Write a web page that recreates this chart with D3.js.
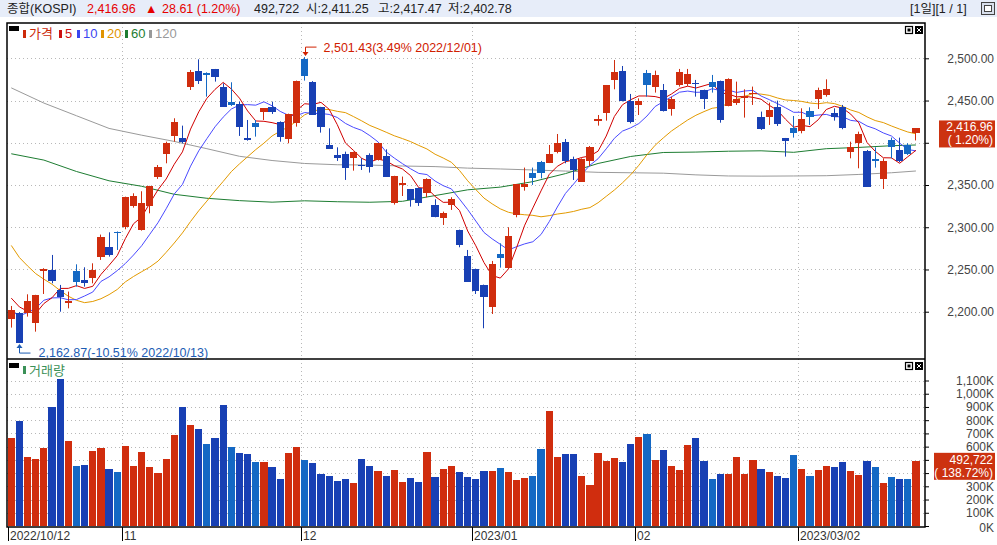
<!DOCTYPE html>
<html>
<head>
<meta charset="utf-8">
<script src="https://cdn.jsdelivr.net/npm/d3@7"></script>
<style>
body { margin: 0; background: #fff; }
svg { display: block; font-family: "Liberation Sans", "Noto Sans CJK KR", sans-serif; }
</style>
</head>
<body>
<div id="chart"></div>
<script>
const width = 997;
const height = 545;

// daily KOSPI candles, 2022/10/12 .. 2023/03/22
const opens = [2191.0,2198.1,2199.0,2187.1,2248.6,2249.4,2225.8,2210.0,2248.6,2237.6,
  2239.6,2264.4,2276.3,2294.8,2300.7,2325.2,2296.8,2325.2,2359.9,2386.7,
  2408.1,2405.3,2466.5,2484.6,2483.0,2487.0,2465.7,2448.7,2445.9,2405.3,
  2423.8,2436.9,2442.8,2425.0,2404.5,2423.8,2499.0,2472.4,2442.0,2397.4,
  2385.6,2386.7,2382.4,2373.7,2385.2,2379.6,2384.4,2328.3,2350.4,2344.9,
  2346.5,2340.2,2326.4,2311.4,2326.8,2296.8,2266.0,2250.6,2231.7,2205.2,
  2268.4,2252.2,2314.5,2347.3,2363.9,2377.3,2376.5,2389.5,2401.0,2380.4,
  2354.0,2378.9,2426.2,2435.7,2474.4,2485.0,2449.9,2445.1,2483.0,2466.5,
  2462.5,2439.6,2468.4,2469.6,2471.2,2462.5,2471.6,2473.2,2443.6,2447.5,
  2452.6,2457.4,2430.2,2430.2,2442.0,2405.3,2417.1,2414.4,2438.0,2451.9,
  2456.6,2434.9,2442.0,2389.5,2400.2,2390.7,2380.4,2357.6,2403.3,2391.5,
  2397.4,2411.25];
const highs = [2206.8,2199.5,2220.6,2220.0,2251.5,2267.2,2231.7,2223.8,2256.1,2252.6,
  2257.3,2291.3,2294.0,2295.0,2336.2,2340.2,2342.6,2349.0,2373.7,2401.3,
  2429.0,2420.3,2486.2,2498.8,2483.4,2487.4,2470.4,2471.6,2448.7,2427.0,
  2427.0,2441.0,2448.7,2425.4,2434.5,2473.6,2501.43,2473.0,2442.5,2417.1,
  2394.6,2389.5,2389.5,2381.6,2387.5,2399.6,2392.3,2360.9,2360.0,2345.3,
  2346.9,2358.0,2333.1,2318.5,2335.5,2297.2,2273.1,2251.0,2232.1,2260.1,
  2281.0,2300.0,2351.2,2370.6,2370.6,2378.5,2397.4,2410.4,2404.5,2383.6,
  2381.6,2396.2,2432.9,2468.4,2498.0,2490.9,2457.8,2452.6,2486.2,2485.4,
  2469.6,2454.6,2487.4,2487.4,2474.4,2462.9,2480.3,2473.6,2476.3,2472.4,
  2463.3,2466.5,2436.9,2447.5,2449.9,2405.7,2431.7,2440.8,2442.0,2465.3,
  2475.1,2440.8,2444.8,2401.3,2413.2,2391.5,2394.6,2381.6,2406.1,2406.1,
  2399.4,2417.47];
const lows = [2181.2,2162.87,2194.2,2176.4,2221.0,2233.6,2200.0,2204.0,2229.7,2229.7,
  2233.6,2261.3,2265.2,2273.1,2297.6,2323.2,2296.0,2316.5,2357.2,2375.7,
  2401.3,2399.4,2462.5,2469.6,2454.6,2472.4,2442.8,2443.6,2408.1,2402.5,
  2407.3,2427.0,2434.1,2401.3,2399.4,2419.1,2473.6,2433.0,2412.0,2393.0,
  2378.5,2356.0,2367.0,2367.8,2364.7,2379.0,2360.0,2326.8,2337.0,2324.4,
  2325.2,2335.5,2311.8,2302.7,2320.5,2276.3,2235.6,2221.0,2180.4,2197.3,
  2252.2,2252.0,2311.8,2343.3,2350.1,2357.9,2376.0,2387.5,2375.7,2356.0,
  2354.0,2372.5,2420.3,2426.2,2463.3,2449.0,2423.0,2432.9,2454.6,2459.4,
  2437.0,2432.1,2466.5,2467.0,2454.6,2440.0,2459.4,2423.8,2443.2,2444.8,
  2429.8,2444.8,2415.2,2421.1,2419.9,2383.6,2406.1,2411.2,2421.1,2440.0,
  2454.6,2426.2,2416.0,2381.6,2369.8,2348.1,2370.6,2345.3,2381.6,2376.9,
  2385.6,2402.78];
const closes = [2202.5,2162.87,2212.7,2219.4,2251.0,2236.8,2217.9,2213.1,2235.6,2234.4,
  2249.4,2288.1,2267.2,2292.8,2335.5,2337.0,2328.3,2348.9,2371.8,2399.4,
  2424.6,2401.3,2483.8,2473.6,2479.9,2477.5,2442.8,2444.8,2419.1,2404.1,
  2418.3,2440.8,2436.9,2407.3,2434.1,2473.2,2479.5,2433.3,2419.1,2393.1,
  2382.4,2370.6,2389.1,2372.5,2371.8,2399.4,2360.0,2360.7,2352.8,2332.3,
  2328.3,2356.8,2312.6,2317.3,2333.5,2279.0,2235.6,2225.0,2217.9,2256.5,
  2264.0,2289.7,2350.8,2351.2,2358.7,2364.7,2386.7,2399.4,2378.9,2367.8,
  2380.4,2395.4,2427.8,2468.4,2483.8,2449.9,2425.0,2449.9,2468.4,2480.3,
  2438.0,2451.9,2483.4,2481.5,2469.2,2451.9,2465.7,2427.0,2475.1,2451.9,
  2455.4,2459.4,2416.3,2438.8,2422.3,2402.5,2412.0,2427.8,2430.9,2462.5,
  2463.7,2430.9,2417.1,2395.4,2410.4,2348.1,2378.9,2378.5,2394.6,2378.5,
  2386.7,2416.96];
// volume, thousand shares
const volumes = [665,793,521,506,589,899,1111,642,453,461,
  567,589,431,408,605,453,559,446,400,506,
  688,899,763,733,620,665,914,597,552,544,
  484,484,446,355,552,597,499,476,393,378,
  340,355,325,506,453,416,378,423,333,363,
  333,559,370,431,453,408,370,355,416,416,
  438,408,348,363,378,582,869,521,544,544,
  378,310,552,491,514,484,620,673,695,499,
  574,453,423,612,665,491,355,393,393,521,
  393,499,431,408,378,363,537,431,378,423,
  453,446,484,416,385,491,446,325,370,355,
  355,492.722];
// closes of the 19 sessions before the first candle (for the short averages)
const priorCloses = [2449.5,2411.4,2401.8,2382.8,2355.7,2367.9,2347.2,2332.3,2290.0,2220.9,
  2223.9,2169.3,2170.9,2155.5,2209.4,2215.2,2237.9,2232.8,2192.1];

// long averages at these candle positions
const maAt = [0,4,8,12,16,20,24,28,32,36,40,44,48,52,56,60,64,68,72,76,80,84,88,92,96,100,104,108,111];
const ma60 = [2387,2379.5,2366,2355,2348.5,2339,2334.3,2331.5,2329.7,2331.3,2330.2,2329.6,2330.7,2337.5,
  2344.3,2347.5,2354,2363.5,2375.5,2383.8,2388.5,2389,2390,2390.5,2388.7,2393,2394.5,2396.5,2397.4];
const ma120 = [2465,2447,2432,2417,2409,2401.6,2393,2384,2379,2375.5,2374,2373.6,2372.5,2371.8,
  2370,2369,2367.8,2366.5,2365,2364.5,2364,2362,2360.7,2360.5,2360.7,2361,2362.5,2364.5,2366.6];

const dateTickIdx = [0, 14, 36, 57, 77, 97];
const dateTickLabels = ["2022/10/12", "11", "12", "2023/01", "02", "2023/03/02"];
const priceTicks = [2200, 2250, 2300, 2350, 2400, 2450, 2500];
const volTicks = [0, 100, 200, 300, 400, 500, 600, 700, 800, 900, 1000, 1100];

const headerItems = [
  {x: 7, text: "종합(KOSPI)", color: "#222"},
  {x: 87, text: "2,416.96", color: "#e60000"},
  {x: 145, text: "▲", color: "#e60000"},
  {x: 162, text: "28.61 (1.20%)", color: "#e60000"},
  {x: 254, text: "492,722", color: "#222"},
  {x: 306, text: "시:2,411.25", color: "#222"},
  {x: 378, text: "고:2,417.47", color: "#222"},
  {x: 448, text: "저:2,402.78", color: "#222"},
  {x: 910, text: "[1일][1 / 1]", color: "#222"}
];
const legendItems = [
  {x: 23, text: "가격", color: "#cc2a0a"},
  {x: 59, text: "5", color: "#cc1010"},
  {x: 77, text: "10", color: "#3a46f0"},
  {x: 101, text: "20", color: "#e09400"},
  {x: 125, text: "60", color: "#1e7d32"},
  {x: 149, text: "120", color: "#999"}
];

const red = "#d02d0e";
const blue = "#1840b4";
const lightBlue = "#1468c4";

const n = closes.length;
const left = 7, right = 925;
const priceTop = 23, priceBottom = 359;
const volBottom = 527;

const x = d3.scaleBand()
    .domain(d3.range(n))
    .range([7.2, 7.2 + n * 8.15])
    .paddingInner(0.12)
    .paddingOuter(0.06);
const cx = i => x(i) + x.bandwidth() / 2;

const y = d3.scaleLinear().domain([2145.2, 2541.8]).range([358, 23]);
const yv = d3.scaleLinear().domain([0, 1255]).range([526, 360]);

function candleColor(i) {
    if (closes[i] >= opens[i]) return red;
    const prev = i > 0 ? closes[i - 1] : priorCloses[priorCloses.length - 1];
    return closes[i] > prev ? lightBlue : blue;
}

const allCloses = priorCloses.concat(closes);
function movingAvg(p) {
    const off = priorCloses.length;
    return closes.map((c, i) => d3.mean(allCloses.slice(i + off - p + 1, i + off + 1)));
}

const svg = d3.select("#chart")
    .append("svg")
        .attr("width", width)
        .attr("height", height)
        .style("font-size", "12px");

// header bar
svg.append("rect")
    .attr("width", width).attr("height", 17)
    .attr("fill", "#e7edf9");
svg.append("g").selectAll("text")
    .data(headerItems)
    .join("text")
        .attr("x", d => d.x)
        .attr("y", 13)
        .attr("fill", d => d.color)
        .style("font-size", "12.5px")
        .text(d => d.text);
svg.append("rect")
    .attr("x", 981.5).attr("y", 2.5).attr("width", 13).attr("height", 12)
    .attr("fill", "#d8dfec").attr("stroke", "#444");
svg.append("rect")
    .attr("x", 984.5).attr("y", 5.5).attr("width", 7).attr("height", 6)
    .attr("fill", "#fff").attr("stroke", "#444");

// grid
const grid = svg.append("g")
    .attr("stroke", "#b8b8b8")
    .attr("stroke-dasharray", "1,3");
grid.selectAll(".hp")
    .data(priceTicks)
    .join("line")
        .attr("x1", left).attr("x2", right)
        .attr("y1", d => Math.round(y(d)) + 0.5)
        .attr("y2", d => Math.round(y(d)) + 0.5);
grid.selectAll(".hv")
    .data(volTicks.filter(d => d > 0))
    .join("line")
        .attr("x1", left).attr("x2", right)
        .attr("y1", d => Math.round(yv(d)) + 0.5)
        .attr("y2", d => Math.round(yv(d)) + 0.5);
grid.selectAll(".vt")
    .data(dateTickIdx.slice(1))
    .join("line")
        .attr("x1", d => Math.round(x(d)) + 0.5)
        .attr("x2", d => Math.round(x(d)) + 0.5)
        .attr("y1", priceTop)
        .attr("y2", volBottom);

// moving averages
const lineIdx = d3.line().x((d, i) => cx(i)).y(d => y(d));
const lineAt = d3.line().x((d, k) => cx(maAt[k])).y(d => y(d));
const maLines = [
    {values: ma120, gen: lineAt, color: "#9a9a9a"},
    {values: ma60, gen: lineAt, color: "#1e7d32"},
    {values: movingAvg(20), gen: lineIdx, color: "#e39a00"},
    {values: movingAvg(10), gen: lineIdx, color: "#4a4aff"},
    {values: movingAvg(5), gen: lineIdx, color: "#d00000"}
];
svg.append("g")
    .attr("fill", "none")
    .attr("stroke-width", 1)
    .selectAll("path")
    .data(maLines)
    .join("path")
        .attr("stroke", d => d.color)
        .attr("d", d => d.gen(d.values));

// candles
const candles = svg.append("g")
    .selectAll("g")
    .data(d3.range(n))
    .join("g")
        .attr("fill", candleColor)
        .attr("stroke", candleColor);
candles.append("line")
    .attr("x1", i => Math.floor(cx(i)) + 0.5)
    .attr("x2", i => Math.floor(cx(i)) + 0.5)
    .attr("y1", i => y(highs[i]))
    .attr("y2", i => y(lows[i]));
candles.append("rect")
    .attr("stroke", "none")
    .attr("shape-rendering", "crispEdges")
    .attr("x", i => x(i))
    .attr("width", x.bandwidth())
    .attr("y", i => y(Math.max(opens[i], closes[i])))
    .attr("height", i => Math.max(1.5, Math.abs(y(opens[i]) - y(closes[i]))));

// volume bars
svg.append("g")
    .selectAll("rect")
    .data(volumes)
    .join("rect")
        .attr("shape-rendering", "crispEdges")
        .attr("x", (d, i) => x(i))
        .attr("width", x.bandwidth())
        .attr("y", d => yv(d))
        .attr("height", d => yv(0) - yv(d))
        .attr("fill", (d, i) => candleColor(i));

// frame
const frame = svg.append("g")
    .attr("stroke", "#000")
    .attr("stroke-width", 1.5)
    .attr("fill", "none");
frame.append("path")
    .attr("d", `M${left},${priceTop}H${right}V${volBottom}H${left}Z`);
frame.append("line")
    .attr("x1", left).attr("x2", right)
    .attr("y1", priceBottom).attr("y2", priceBottom);

// right axes; labels hidden under the last-value boxes are dropped
const priceBoxY = y(closes[n - 1]);
const volBoxY = yv(volumes[n - 1]);
const underBox = (pos, boxY) => pos > boxY - 14 && pos < boxY + 25;

const priceAxis = svg.append("g")
    .attr("transform", `translate(${right},0)`)
    .call(d3.axisRight(y).tickValues(priceTicks).tickSize(4)
        .tickFormat(d => underBox(y(d), priceBoxY) ? "" : d3.format(",.2f")(d)));
const volAxis = svg.append("g")
    .attr("transform", `translate(${right},0)`)
    .call(d3.axisRight(yv).tickValues(volTicks).tickSize(4)
        .tickFormat(d => underBox(yv(d), volBoxY) ? "" : d3.format(",")(d) + "K"));
[priceAxis, volAxis].forEach(g => {
    g.select(".domain").remove();
    g.selectAll("line").attr("stroke", "#000");
    g.selectAll("text")
        .attr("x", 69)
        .attr("text-anchor", "end")
        .attr("fill", "#444")
        .style("font-size", "12px")
        .style("font-family", "Liberation Sans, sans-serif");
});
volAxis.selectAll(".tick")
    .filter(d => d === 0)
    .select("text")
        .attr("dy", "0.45em");

// bottom date axis
const dateAxis = svg.append("g");
dateAxis.selectAll("line")
    .data(dateTickIdx)
    .join("line")
        .attr("x1", d => Math.round(x(d)) + 0.5)
        .attr("x2", d => Math.round(x(d)) + 0.5)
        .attr("y1", volBottom)
        .attr("y2", 541)
        .attr("stroke", "#000");
dateAxis.selectAll("text")
    .data(dateTickIdx)
    .join("text")
        .attr("x", d => Math.round(x(d)) + 2)
        .attr("y", 540)
        .attr("fill", "#333")
        .text((d, k) => dateTickLabels[k]);

// last value boxes
function valueBox(yPos, x0, lines) {
    const g = svg.append("g");
    g.append("rect")
        .attr("x", x0).attr("y", yPos - 8)
        .attr("width", 995 - x0).attr("height", 27)
        .attr("fill", "#cc3210");
    g.selectAll("text")
        .data(lines)
        .join("text")
            .attr("x", 993)
            .attr("y", (d, k) => yPos + 3 + k * 13)
            .attr("text-anchor", "end")
            .attr("fill", "#fff")
            .text(d => d);
}
valueBox(priceBoxY, 939, ["2,416.96", "( 1.20%)"]);
valueBox(volBoxY, 934, ["492,722", "( 138.72%)"]);

// high / low markers
const hi = d3.maxIndex(highs);
const lo = d3.minIndex(lows);
const hx = Math.round(cx(hi)) + 0.5, hy = y(highs[hi]);
svg.append("path")
    .attr("d", `M${hx + 11},${hy - 10}H${hx}V${hy - 2}`)
    .attr("fill", "none").attr("stroke", "#d02000");
svg.append("path")
    .attr("d", `M${hx - 3},${hy - 5}L${hx},${hy - 1}L${hx + 3},${hy - 5}Z`)
    .attr("fill", "#d02000");
svg.append("text")
    .attr("x", hx + 18).attr("y", hy - 5)
    .attr("fill", "#d02000")
    .style("font-size", "12.5px")
    .text("2,501.43(3.49% 2022/12/01)");

const lx = Math.round(cx(lo)) + 0.5, ly = y(lows[lo]);
svg.append("path")
    .attr("d", `M${lx + 11},${ly + 10}H${lx}V${ly + 2}`)
    .attr("fill", "none").attr("stroke", "#1c5cb4");
svg.append("path")
    .attr("d", `M${lx - 3},${ly + 5}L${lx},${ly + 1}L${lx + 3},${ly + 5}Z`)
    .attr("fill", "#1c5cb4");
svg.append("text")
    .attr("x", lx + 19).attr("y", ly + 14)
    .attr("fill", "#1c5cb4")
    .style("font-size", "12.5px")
    .text("2,162.87(-10.51% 2022/10/13)");

// legends
svg.append("rect").attr("x", 9).attr("y", 26).attr("width", 10).attr("height", 5).attr("fill", "#000");
const legend = svg.append("g")
    .selectAll("g")
    .data(legendItems)
    .join("g");
legend.append("rect")
    .attr("x", d => d.x).attr("y", 30).attr("width", 3).attr("height", 8)
    .attr("fill", d => d.color);
legend.append("text")
    .attr("x", d => d.x + 6).attr("y", 38)
    .attr("fill", d => d.color)
    .style("font-size", "13px")
    .text(d => d.text);

svg.append("rect").attr("x", 9).attr("y", 363).attr("width", 10).attr("height", 5).attr("fill", "#000");
svg.append("rect").attr("x", 23).attr("y", 366).attr("width", 3).attr("height", 8).attr("fill", "#3b9157");
svg.append("text")
    .attr("x", 29).attr("y", 375)
    .attr("fill", "#3b9157")
    .style("font-size", "13px")
    .text("거래량");

// pane buttons
[26, 362].forEach(top => {
    svg.append("rect")
        .attr("x", 905.5).attr("y", top + 0.5).attr("width", 7).attr("height", 7)
        .attr("fill", "#fff").attr("stroke", "#000").attr("stroke-width", 1.2);
    svg.append("rect")
        .attr("x", 907.5).attr("y", top + 2.5).attr("width", 3).attr("height", 3)
        .attr("fill", "#000");
    svg.append("rect")
        .attr("x", 915).attr("y", top).attr("width", 8).attr("height", 8)
        .attr("fill", "#000");
    svg.append("path")
        .attr("d", `M917,${top + 2}L921,${top + 6}M921,${top + 2}L917,${top + 6}`)
        .attr("stroke", "#fff");
});
</script>
</body>
</html>
